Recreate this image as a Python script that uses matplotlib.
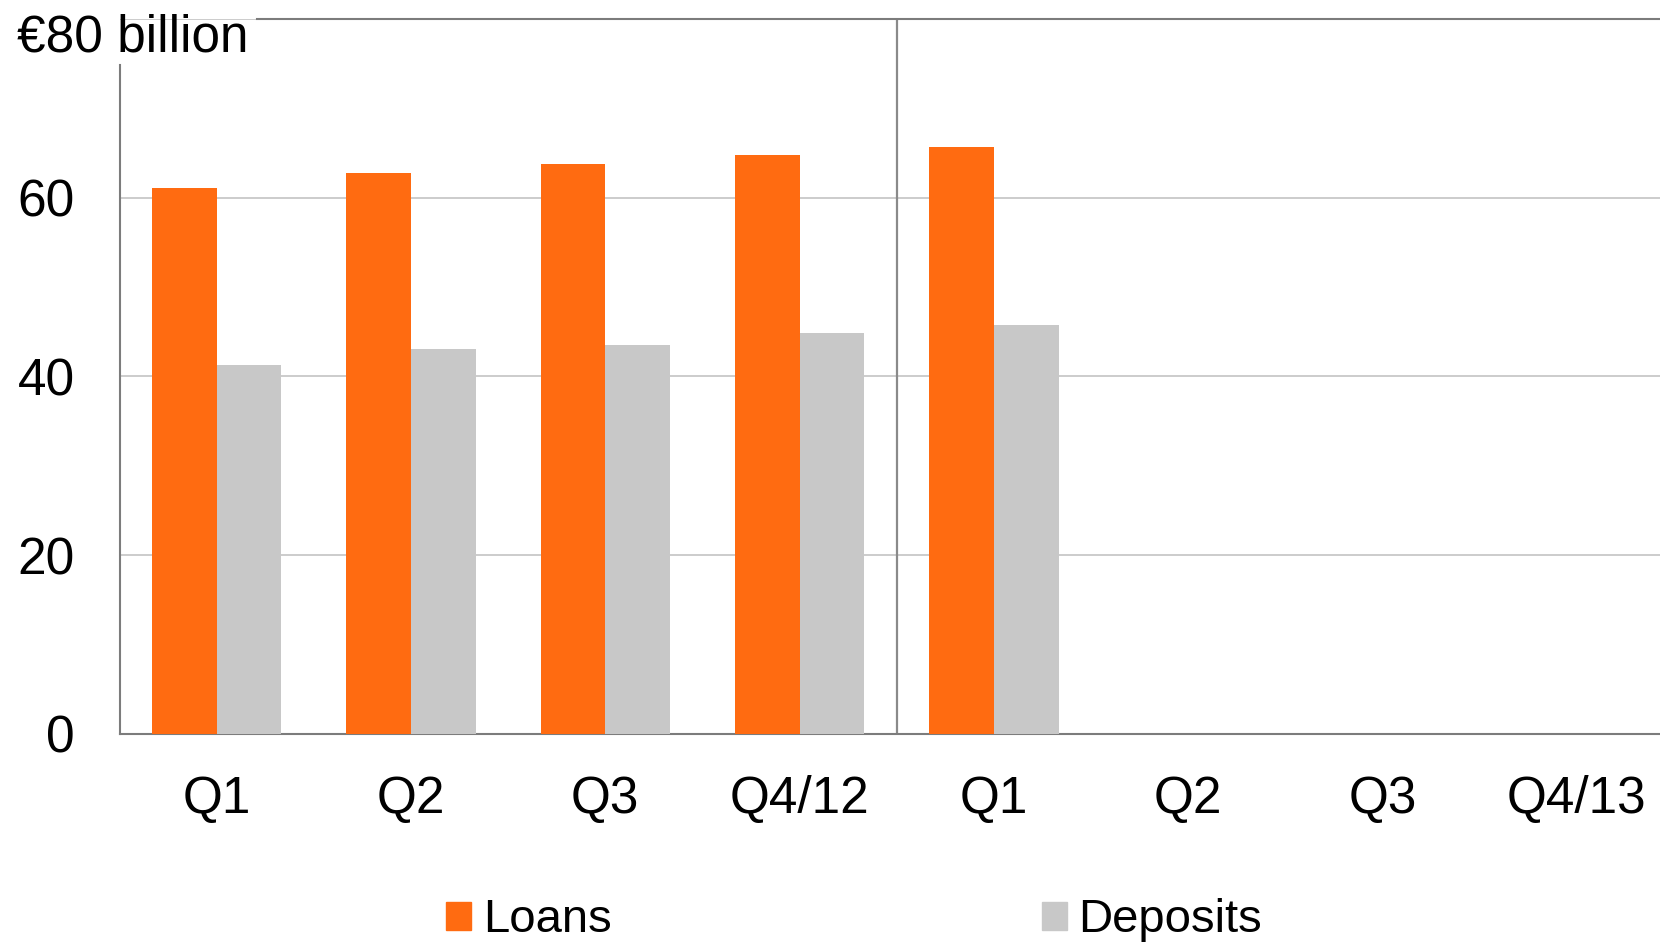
import numpy as np
import matplotlib.pyplot as plt
from matplotlib.patches import Patch

plt.rcParams['font.family'] = ['Liberation Sans', 'DejaVu Sans']

# Quarterly volumes, EUR billion
quarters = ["Q1", "Q2", "Q3", "Q4/12", "Q1", "Q2", "Q3", "Q4/13"]
loans = [61.1, 62.8, 63.8, 64.8, 65.7]
deposits = [41.3, 43.1, 43.5, 44.8, 45.7]

orange = "#ff6b11"
grey = "#c8c8c8"
spine_col = "#7c7c7c"

fig = plt.figure(figsize=(16.6, 9.42), dpi=100)
ax = fig.add_axes([0.072, 0.2211, 0.9364, 0.7587])

x = np.arange(len(loans))
w = 0.333
ax.bar(x - w / 2, loans, width=w, color=orange, zorder=3)
ax.bar(x + w / 2, deposits, width=w, color=grey, zorder=3)

ax.set_xlim(-0.5, len(quarters) - 0.5)
ax.set_ylim(0, 80)

# grid and separator between the two years
ax.set_yticks([0, 20, 40, 60, 80])
ax.set_yticklabels(["0", "20", "40", "60", ""])
ax.yaxis.grid(True, color=grey, linewidth=1.3, zorder=0)
ax.axvline(3.5, color="#8a8a8a", linewidth=1.6, zorder=2)

ax.set_xticks(np.arange(len(quarters)))
ax.set_xticklabels(quarters)
ax.tick_params(axis="both", length=0, labelsize=37)
ax.tick_params(axis="y", pad=32)
ax.tick_params(axis="x", pad=30)

for side in ["left", "bottom", "top"]:
    ax.spines[side].set_color(spine_col)
    ax.spines[side].set_linewidth(1.5)
ax.spines["right"].set_visible(False)
ax.spines["left"].set_bounds(0, 74.8)
ax.spines["top"].set_bounds(0.21, 7.5)

fig.text(0.0102, 0.9448, "€80 billion", fontsize=37, va="baseline", ha="left")

handles = [Patch(color=orange, label="Loans"), Patch(color=grey, label="Deposits")]
fig.legend(handles=handles, loc="center left", bbox_to_anchor=(0.2547, 0.023),
           ncol=2, frameon=False, fontsize=34, borderpad=0,
           handlelength=0.53, handleheight=0.53, handletextpad=0.25,
           columnspacing=9.1)

fig.savefig("out.png", dpi=100)
